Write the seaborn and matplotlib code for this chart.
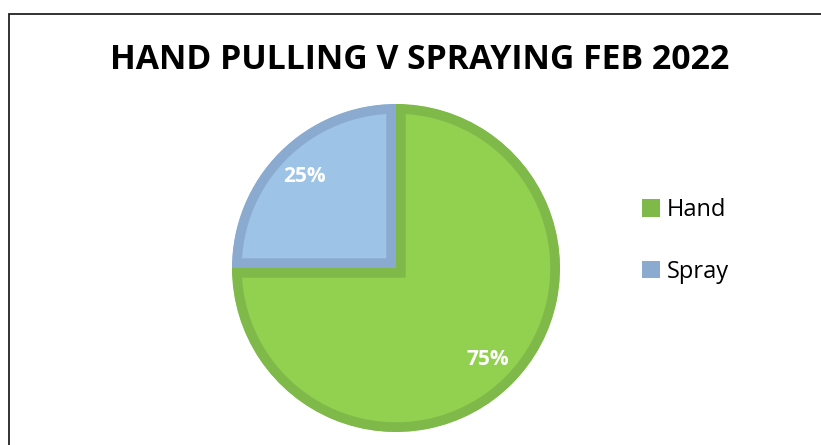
import matplotlib
matplotlib.use("Agg")
import matplotlib.pyplot as plt
from matplotlib.patches import Patch, Rectangle
import seaborn as sns

# data
labels = ["Hand", "Spray"]
values = [75, 25]
fill_colors = ["#92D050", "#9DC3E6"]
edge_colors = ["#7FB94A", "#8AABCF"]
title = "HAND PULLING V SPRAYING FEB 2022"

sns.set_theme(style="white")
plt.rcParams['font.family'] = ['Open Sans', 'DejaVu Sans']

fig = plt.figure(figsize=(8.21, 4.45), dpi=100)
fig.patch.set_facecolor("white")

# pie axes: centre (396, 268) px, radius 164 px
ax = fig.add_axes([232 / 821, (445 - 268 - 164) / 445, 328 / 821, 328 / 445])
wedges, texts, autotexts = ax.pie(
    values,
    colors=fill_colors,
    startangle=90,
    counterclock=False,
    autopct="%d%%",
    pctdistance=0.79,
    wedgeprops=dict(linewidth=14, antialiased=True),
    textprops=dict(color="white", fontsize=15, fontweight="bold"),
)
# border drawn only on the inside of each slice
for w, ec in zip(wedges, edge_colors):
    w.set_edgecolor(ec)
    w.set_clip_on(True)
    w.set_clip_path(w)
ax.set_xlim(-1, 1)
ax.set_ylim(-1, 1)
ax.set_aspect("equal")
ax.axis("off")

fig.text(420 / 821, 1 - 60 / 445, title, ha="center", va="center",
         fontsize=24.3, fontweight="bold", color="black")

# legend
handles = [Patch(facecolor=c, edgecolor="none") for c in edge_colors]
leg = fig.legend(handles, labels, loc="center left",
                 bbox_to_anchor=(630 / 821, 1 - 241 / 445),
                 frameon=False, fontsize=17, handlelength=0.75, handleheight=0.75,
                 handletextpad=0.3, labelspacing=1.6, borderpad=0)
for t in leg.get_texts():
    t.set_color("black")

# chart border (cropped at right and bottom)
fig.patches.append(Rectangle((8.5 / 821, -0.1), 2, 1.1 - 14 / 445,
                             transform=fig.transFigure, fill=False,
                             edgecolor="#222222", linewidth=1.3))

fig.savefig("out.png", dpi=100)
